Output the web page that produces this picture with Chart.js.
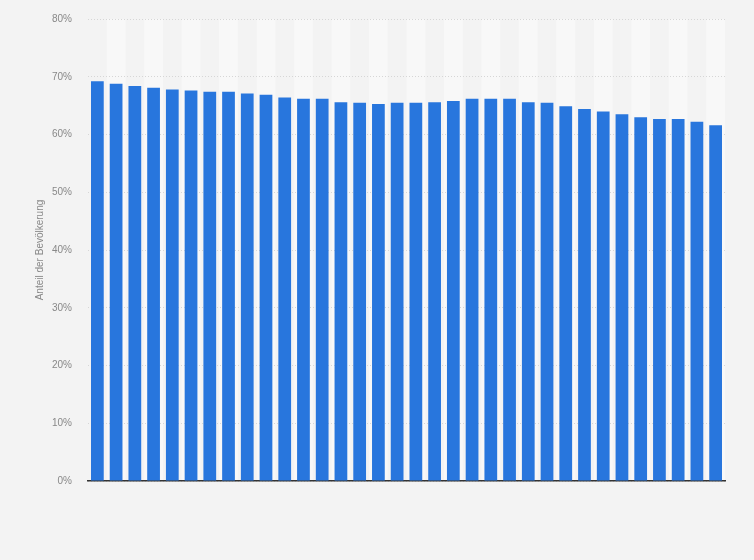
<!DOCTYPE html>
<html><head><meta charset="utf-8">
<script src="https://cdn.jsdelivr.net/npm/chart.js@4/dist/chart.umd.min.js"></script>
<style>html,body{margin:0;padding:0;background:#f3f3f3;}#wrap{width:754px;height:560px;}</style>
</head><body><div id="wrap"><canvas id="c"></canvas></div>
<script>
const categories = ["1","2","3","4","5","6","7","8","9","10","11","12","13","14","15","16","17","18","19","20","21","22","23","24","25","26","27","28","29","30","31","32","33","34"];
const values = [69.2,68.8,68.4,68.1,67.8,67.6,67.4,67.4,67.1,66.9,66.4,66.2,66.2,65.6,65.5,65.3,65.5,65.5,65.6,65.8,66.2,66.2,66.2,65.6,65.5,64.9,64.4,64.0,63.5,63.0,62.7,62.7,62.2,61.6];
const yTicks = [0,10,20,30,40,50,60,70,80];
const yTitle = "Anteil der Bevölkerung";

const bandsBg = {
  id:'bandsBg',
  beforeDraw(chart){
    const {ctx, chartArea:a, scales:{x}} = chart;
    ctx.save();
    ctx.fillStyle = '#f8f8f8';
    const w = x.getPixelForValue(1) - x.getPixelForValue(0);
    categories.forEach((c,i)=>{
      if(i%2===1){
        const cx = x.getPixelForValue(i);
        ctx.fillRect(cx - w/2, a.top, w, a.bottom - a.top);
      }
    });
    ctx.restore();
  }
};

new Chart(document.getElementById('c'), {
  type:'bar',
  data:{labels:categories, datasets:[{data:values, backgroundColor:'#2876dd', borderWidth:0, barPercentage:0.68, categoryPercentage:1}]},
  options:{
    responsive:true, maintainAspectRatio:false, animation:false,
    layout:{padding:{top:19,right:29,bottom:79,left:0}},
    plugins:{legend:{display:false}, tooltip:{enabled:false}},
    scales:{
      x:{
        ticks:{display:false},
        grid:{display:false, drawTicks:false},
        border:{display:true, color:'#333', width:1.5}
      },
      y:{
        min:0, max:80,
        afterBuildTicks(s){ s.ticks = yTicks.map(v=>({value:v})); },
        afterFit(s){ s.width = 88; },
        ticks:{padding:3, color:'#888', font:{family:'Liberation Sans, Arial', size:10}, callback:v=>v+'%'},
        grid:{color:'#d6d6d6', drawTicks:true, tickLength:13, tickColor:'rgba(0,0,0,0)', lineWidth:1},
        border:{display:false, dash:[1,2]},
        title:{display:true, text:yTitle, color:'#888', font:{family:'Liberation Sans, Arial', size:10}, padding:{top:34,bottom:0}}
      }
    }
  },
  plugins:[bandsBg]
});
</script></body></html>
